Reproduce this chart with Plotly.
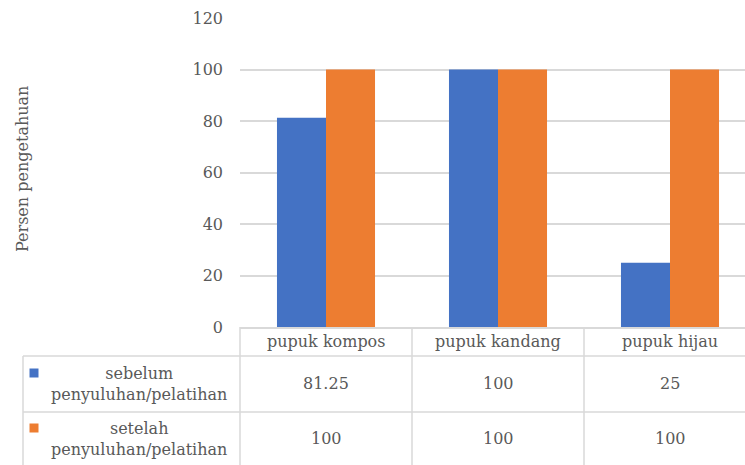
import plotly.graph_objects as go

# Data
categories = ["pupuk kompos", "pupuk kandang", "pupuk hijau"]
series_names = ["sebelum penyuluhan/pelatihan", "setelah penyuluhan/pelatihan"]
row_labels = ["sebelum<br>penyuluhan/pelatihan", "setelah<br>penyuluhan/pelatihan"]
sebelum = [81.25, 100, 25]
setelah = [100, 100, 100]
y_ticks = [0, 20, 40, 60, 80, 100, 120]

colors = ["#4472C4", "#ED7D31"]
text_color = "#595959"
line_color = "#D9D9D9"
font_family = "DejaVu Serif, Liberation Serif, serif"
font_size = 16

W, H = 745, 465
L, R, T, B = 240, 0, 18, 138
plot_w = W - L - R
plot_h = H - T - B
cat_w = 172  # pixel width of one category column

def px_x(X):
    return (X - L) / plot_w

def px_y(Y):
    return (H - B - Y) / plot_h

def txt(**kw):
    base = dict(showarrow=False, xanchor="center", yanchor="middle",
                font=dict(family=font_family, size=font_size, color=text_color))
    base.update(kw)
    return base

fig = go.Figure()
for name, vals, col in zip(series_names, [sebelum, setelah], colors):
    fig.add_trace(go.Bar(x=categories, y=vals, name=name, marker_color=col,
                         marker_line_width=0))

shapes = []
annotations = []

# Table grid lines
table_top = H - B
header_bottom = 356
row1_bottom = 412
table_left = 23
for i in range(len(categories)):
    xv = L + i * cat_w
    shapes.append(dict(type="line", xref="paper", yref="paper",
                       x0=px_x(xv), x1=px_x(xv), y0=px_y(table_top), y1=px_y(H + 5),
                       line=dict(color=line_color, width=1.5)))
shapes.append(dict(type="line", xref="paper", yref="paper",
                   x0=px_x(table_left), x1=px_x(table_left),
                   y0=px_y(header_bottom), y1=px_y(H + 5),
                   line=dict(color=line_color, width=1.5)))
for yv in (header_bottom, row1_bottom):
    shapes.append(dict(type="line", xref="paper", yref="paper",
                       x0=px_x(table_left), x1=px_x(W + 5), y0=px_y(yv), y1=px_y(yv),
                       line=dict(color=line_color, width=1.5)))

# Header row: category names
for c in categories:
    annotations.append(txt(x=c, xref="x", y=px_y(341.5), yref="paper", text=c))

# Data rows: legend key, series label and values
row_centers = [384, 439]
for r, (label, vals, col) in enumerate(zip(row_labels, [sebelum, setelah], colors)):
    yc = row_centers[r]
    key_y = yc - 11
    shapes.append(dict(type="rect", xref="paper", yref="paper",
                       x0=px_x(29.5), x1=px_x(38.5), y0=px_y(key_y - 4.5), y1=px_y(key_y + 4.5),
                       fillcolor=col, line=dict(width=0)))
    annotations.append(txt(x=px_x(139), xref="paper", y=px_y(yc), yref="paper",
                           text=label, align="center"))
    for c, v in zip(categories, vals):
        annotations.append(txt(x=c, xref="x", y=px_y(yc - 1), yref="paper", text=f"{v:g}"))

# Y-axis title
annotations.append(txt(x=px_x(22), xref="paper", y=px_y(169), yref="paper",
                       text="Persen pengetahuan", textangle=-90))

fig.update_layout(
    width=W, height=H,
    margin=dict(l=L, r=R, t=T, b=B, autoexpand=False),
    paper_bgcolor="white", plot_bgcolor="white",
    barmode="group", bargap=0.43, bargroupgap=0,
    showlegend=False,
    font=dict(family=font_family, size=font_size, color=text_color),
    shapes=shapes, annotations=annotations,
)
fig.update_xaxes(type="category", range=[-0.5, -0.5 + plot_w / cat_w],
                 showticklabels=False, showgrid=False, zeroline=False,
                 showline=True, linecolor=line_color, linewidth=1.5, fixedrange=True)
fig.update_yaxes(range=[0, 120], tickvals=y_ticks, showgrid=True,
                 gridcolor=line_color, gridwidth=1.5, zeroline=False,
                 ticks="", ticklabelstandoff=16,
                 tickfont=dict(family=font_family, size=font_size, color=text_color),
                 fixedrange=True)

fig.write_html("out.html")
